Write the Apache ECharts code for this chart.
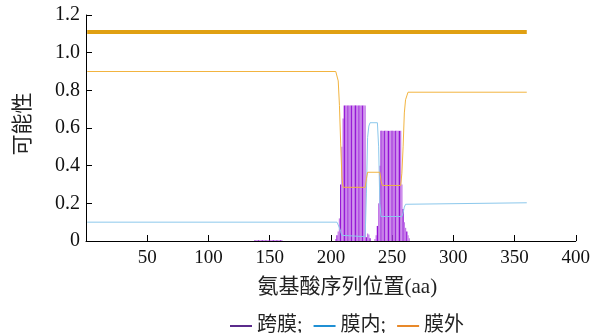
<!DOCTYPE html>
<html><head><meta charset="utf-8">
<script src="https://cdn.jsdelivr.net/npm/echarts@6/dist/echarts.min.js"></script>
<style>html,body{margin:0;padding:0;background:#fff}#c{width:593px;height:333px}</style>
</head><body><div id="c"></div>
<script>
// ---- data ----
const yTicks = [0, 0.2, 0.4, 0.6, 0.8, 1.0, 1.2];
const xTicks = [50, 100, 150, 200, 250, 300, 350, 400];
// transmembrane probability per residue (non-zero residues only)
const tmResidue = [138,139,140,141,142,143,144,145,146,147,148,149,150,151,152,153,154,155,156,157,158,159,160,
  204,205,206,207,208,209,210,211,212,213,214,215,216,217,218,219,220,221,222,223,224,225,226,227,228,229,230,231,232,
  236,237,238,239,240,241,242,243,244,245,246,247,248,249,250,251,252,253,254,255,256,257,258,259,260,261,262,263,264];
const tmProb = [0.004,0.004,0.004,0.004,0.004,0.004,0.004,0.004,0.004,0.004,0.004,0.004,0.004,0.004,0.004,0.004,0.004,0.004,0.004,0.004,0.004,0.004,0.004,
  0.01,0.03,0.05,0.12,0.3,0.5,0.65,0.72,0.72,0.72,0.72,0.72,0.72,0.72,0.72,0.72,0.72,0.72,0.72,0.72,0.72,0.72,0.72,0.72,0.72,0.02,0.04,0.035,0.015,
  0.01,0.03,0.08,0.2,0.4,0.585,0.585,0.585,0.585,0.585,0.585,0.585,0.585,0.585,0.585,0.585,0.585,0.585,0.585,0.585,0.585,0.585,0.3,0.17,0.1,0.07,0.05,0.03,0.015];
// inside probability (breakpoints)
const inX = [1, 205, 206, 207, 208, 209, 210, 228, 229, 230, 231, 232, 238, 239, 240, 241, 258, 259, 260, 261, 262, 360];
const inY = [0.1, 0.1, 0.09, 0.07, 0.05, 0.03, 0.023, 0.023, 0.25, 0.55, 0.61, 0.628, 0.628, 0.5, 0.2, 0.13, 0.13, 0.15, 0.18, 0.195, 0.203, 0.203];
// outside probability (breakpoints)
const outX = [1, 204, 205, 206, 207, 208, 209, 210, 228, 229, 230, 240, 241, 242, 257, 258, 259, 260, 261, 262, 263, 360];
const outY = [0.9, 0.9, 0.89, 0.85, 0.72, 0.52, 0.34, 0.285, 0.285, 0.33, 0.365, 0.365, 0.32, 0.295, 0.295, 0.36, 0.5, 0.68, 0.75, 0.77, 0.79, 0.79];
// topology line at top
const topX = [1, 360];
const topY = [1.11, 1.11];
const legendNames = ['跨膜; ', '膜内; ', '膜外'];

const zip = (a, b) => a.map((v, i) => [v, b[i]]);
const NUMFONT = 'Liberation Serif';
const CJKFONT = 'Liberation Serif, Noto Sans CJK SC';

const chart = echarts.init(document.getElementById('c'), null, {renderer: 'canvas'});
chart.setOption({
  animation: false,
  backgroundColor: '#fff',
  textStyle: {fontFamily: CJKFONT},
  grid: {left: 86, right: 16, top: 15, bottom: 92, containLabel: false},
  legend: {
    top: 311, left: 225, itemWidth: 22, itemHeight: 2, itemGap: 6, icon: 'rect',
    textStyle: {fontFamily: CJKFONT, fontSize: 20, color: '#222'},
    data: [
      {name: legendNames[0], itemStyle: {color: '#5b2b8c'}},
      {name: legendNames[1], itemStyle: {color: '#2090d4'}},
      {name: legendNames[2], itemStyle: {color: '#e8892a'}}
    ]
  },
  xAxis: {
    type: 'value', min: 0, max: 400, interval: 50,
    name: '氨基酸序列位置(aa)', nameLocation: 'middle', nameGap: 36,
    nameTextStyle: {fontFamily: CJKFONT, fontSize: 21, color: '#222', padding: [0, 0, 0, 33]},
    axisLine: {lineStyle: {color: '#000', width: 1}},
    axisTick: {inside: true, length: 6, lineStyle: {color: '#000'}},
    axisLabel: {fontFamily: NUMFONT, fontSize: 19, color: '#111', margin: 8, showMinLabel: false,
      formatter: v => xTicks.includes(v) ? String(v) : ''},
    splitLine: {show: false}
  },
  yAxis: {
    type: 'value', min: 0, max: 1.2, interval: 0.2,
    name: '可能性', nameLocation: 'middle', nameGap: 52, nameRotate: 90,
    nameTextStyle: {fontFamily: CJKFONT, fontSize: 21, color: '#222', padding: [0, 0, 0, 8]},
    axisLine: {show: true, lineStyle: {color: '#000', width: 1}},
    axisTick: {show: true, inside: true, length: 6, lineStyle: {color: '#000'}},
    axisLabel: {fontFamily: NUMFONT, fontSize: 20, color: '#111', margin: 6,
      formatter: v => { const t = yTicks.find(k => Math.abs(k - v) < 1e-6); return t === 0 ? '0' : t.toFixed(1); }},
    splitLine: {show: false}
  },
  series: [
    {
      name: legendNames[0], type: 'bar', barWidth: 1.3, barGap: '-100%',
      data: zip(tmResidue, tmProb),
      itemStyle: {color: p => (p.dataIndex % 3 === 0 ? '#9412d6' : '#c47ae8')},
      z: 2
    },
    {
      name: legendNames[1], type: 'line', symbol: 'none', data: zip(inX, inY),
      lineStyle: {color: '#8cc8ec', width: 1}, itemStyle: {color: '#2090d4'}, z: 3
    },
    {
      name: legendNames[2], type: 'line', symbol: 'none', data: zip(outX, outY),
      lineStyle: {color: '#f2b440', width: 1}, itemStyle: {color: '#e8892a'}, z: 3
    },
    {
      name: 'topology', type: 'line', symbol: 'none', data: zip(topX, topY),
      lineStyle: {color: '#e0a012', width: 4}, z: 3
    }
  ]
});
</script></body></html>
